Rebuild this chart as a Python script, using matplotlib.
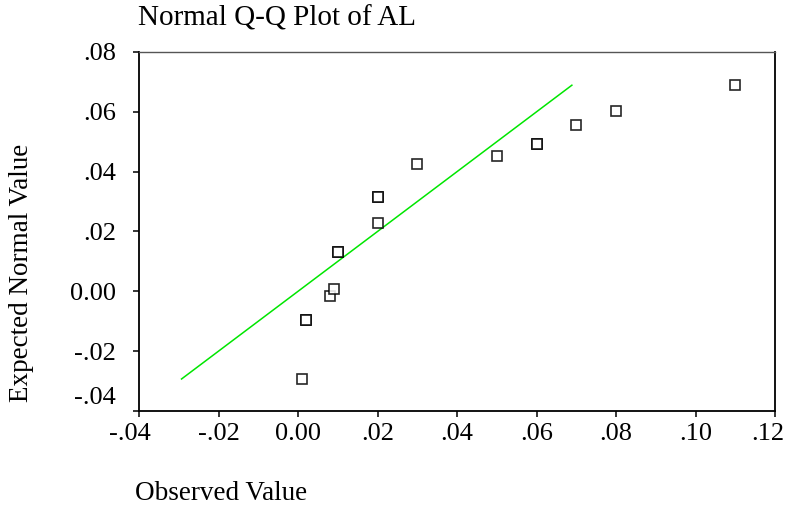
"""Normal Q-Q plot of AL, SPSS-style."""
import matplotlib
matplotlib.use("Agg")
import matplotlib.pyplot as plt
import numpy as np

plt.rcParams.update({"font.family": ["Liberation Serif", "DejaVu Serif"]})

# observed values and expected normal values (ties appear as repeated points)
observed = [0.001, 0.002, 0.002, 0.008, 0.009, 0.010, 0.010, 0.020, 0.020, 0.020,
            0.030, 0.050, 0.060, 0.060, 0.070, 0.080, 0.110]
expected = [-0.0293, -0.0096, -0.0096, -0.0015, 0.0008, 0.0131, 0.0131, 0.0230, 0.0316, 0.0316,
            0.0425, 0.0451, 0.0493, 0.0493, 0.0556, 0.0603, 0.0689]
xticks = [-0.04, -0.02, 0.0, 0.02, 0.04, 0.06, 0.08, 0.10, 0.12]
xlabels = ["-.04", "-.02", "0.00", ".02", ".04", ".06", ".08", ".10", ".12"]
yticks = [-0.04, -0.02, 0.0, 0.02, 0.04, 0.06, 0.08]
ylabels = ["-.04", "-.02", "0.00", ".02", ".04", ".06", ".08"]

fig = plt.figure(figsize=(7.86, 5.12), dpi=100)
ax = fig.add_axes([139 / 786, 1 - 411 / 512, (775 - 139) / 786, (411 - 52) / 512])

# reference line y = x over the range of expected values
lo, hi = min(expected), max(expected)
ax.plot([lo, hi], [lo, hi], color="#00e600", lw=1.1, zorder=2)
ax.plot(observed, expected, ls="none", marker="s", ms=6.5, mfc="white",
        mec="black", mew=1.2, alpha=0.85, zorder=3)

ax.set_xlim(-0.04, 0.12)
ax.set_ylim(-0.04, 0.08)
ax.set_xticks(xticks, [""] + xlabels[1:-1] + [""], fontsize=19)
ax.set_yticks(yticks, [""] + ylabels[1:], fontsize=19)
ax.tick_params(axis="x", direction="out", length=4.5, width=1.1, pad=4)
ax.tick_params(axis="y", direction="out", length=4.5, width=1.1, pad=12)
# SPSS nudges the end labels inside the frame
ax.annotate(ylabels[0], xy=(0, yticks[0]), xycoords=("axes fraction", "data"),
            xytext=(-23, 13), textcoords="offset pixels", ha="right", va="center", fontsize=19)
for val, lab, dx in [(xticks[0], xlabels[0], -9), (xticks[-1], xlabels[-1], -7)]:
    ax.annotate(lab, xy=(val, 0), xycoords=("data", "axes fraction"),
                xytext=(dx, -12), textcoords="offset pixels", ha="center", va="top", fontsize=19)

for side in ["left", "bottom", "right"]:
    ax.spines[side].set_linewidth(1.3)
    ax.spines[side].set_color("black")
ax.spines["top"].set_linewidth(1.0)
ax.spines["top"].set_color("#555555")

fig.text(138 / 786, 1 - 18 / 512, "Normal Q-Q Plot of AL", fontsize=21, ha="left", va="center")
fig.text(135 / 786, 1 - 493 / 512, "Observed Value", fontsize=19.5, ha="left", va="center")
fig.text(22 / 786, 1 - 273 / 512, "Expected Normal Value", fontsize=19.5, rotation=90,
         ha="center", va="center")

fig.savefig("out.png", dpi=100)
